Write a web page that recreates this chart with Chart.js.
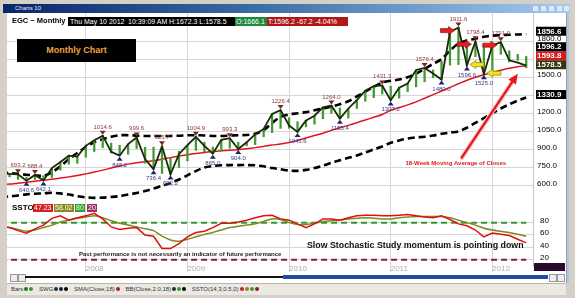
<!DOCTYPE html>
<html>
<head>
<meta charset="utf-8">
<script src="https://cdn.jsdelivr.net/npm/chart.js@4.4.1/dist/chart.umd.min.js"></script>
<style>
  html, body { margin: 0; padding: 0; }
  body { width: 575px; height: 298px; overflow: hidden; position: relative;
    background: #d4d0c8; font-family: "Liberation Sans", Arial, sans-serif; }
  .abs { position: absolute; }
  #titlebar { left: 3px; top: 4px; width: 567px; height: 9px;
    background: linear-gradient(to right, #0a246a, #3a6ea5 45%, #a6caf0); }
  #titlebar span { position: absolute; left: 12px; top: 0; font-size: 6px;
    line-height: 9px; color: #e8eef8; }
  #titlebar i { position: absolute; top: 2px; width: 5px; height: 5px;
    background: #dfe8f4; }
  #panel { left: 7px; top: 13px; width: 559px; height: 270px; background: #fff;
    box-shadow: 1px 0 0 #8aa0c0, 3px 0 0 #b8c4d8; }
  #chartbox { left: 7px; top: 13px; width: 559px; height: 262px; }
  .hdr { top: 17px; height: 9px; font-size: 7px; line-height: 9px; color: #fff;
    white-space: nowrap; }
  #egc { left: 12px; top: 16px; font-size: 7.5px; font-weight: bold; color: #000;
    line-height: 10px; }
  #mchart { left: 17px; top: 39px; width: 119px; height: 23px; background: #000;
    color: #f0a040; font-weight: bold; font-size: 9px; line-height: 23px;
    text-align: center; }
  .sst { top: 204px; height: 8px; font-size: 7px; line-height: 8px; color: #fff;
    padding: 0 1px; }
  #ssto { left: 12px; top: 203px; font-size: 8px; font-weight: bold; color: #000;
    line-height: 10px; }
  #past { left: 79px; top: 251px; font-size: 6px; font-weight: bold; color: #222;
    white-space: nowrap; }
  #slow { left: 307px; top: 240px; font-size: 8.8px; font-weight: bold; color: #111;
    white-space: nowrap; }
  #scroll { left: 7px; top: 274px; width: 559px; height: 8px; background: #fff; }
  #legend { left: 7px; top: 283px; width: 559px; height: 11px; background: #ece9e4;
    border-top: 1px solid #b8b4ac; font-size: 6px; line-height: 11px; color: #333;
    white-space: nowrap; }
  #legend b { font-weight: normal; margin-left: 4px; }
  #legend u { display: inline-block; width: 4px; height: 4px; border-radius: 50%;
    margin-left: 1px; vertical-align: middle; }
</style>
</head>
<body>
<div class="abs" id="titlebar"><span>Charts 10</span>
  <i style="left:530px"></i><i style="left:538px"></i><i style="left:546px"></i><i style="left:554px"></i><i style="left:561px"></i>
</div>
<div class="abs" id="panel"></div>
<div class="abs" id="chartbox"><canvas id="c" width="559" height="262"></canvas></div>

<div class="abs" id="egc">EGC ~ Monthly</div>
<div class="abs hdr" style="left:68px;width:58px;background:#000;padding-left:2px">Thu May 10 2012</div>
<div class="abs hdr" style="left:127px;width:40px;background:#000;padding-left:1px">10:39:09 AM</div>
<div class="abs hdr" id="hl" style="left:168px;width:66px;background:#000;padding-left:1px"></div>
<div class="abs hdr" id="op" style="left:235px;width:31px;background:#1a8a3a;padding-left:1px"></div>
<div class="abs hdr" id="tc" style="left:267px;width:80px;background:#b01818;padding-left:1px"></div>
<div class="abs" id="mchart">Monthly Chart</div>

<div class="abs" id="ssto">SSTO</div>
<div class="abs sst" id="kbox" style="left:33px;background:#d02020"></div>
<div class="abs sst" id="dbox" style="left:54px;background:#8a8a22"></div>
<div class="abs sst" id="hbox" style="left:75px;background:#30a030"></div>
<div class="abs sst" id="lbox" style="left:87px;background:#a0306a"></div>
<div class="abs" id="past">Past performance is not necessarily an indicator of future performance</div>
<div class="abs" id="slow">Slow Stochastic Study momentum is pointing down</div>

<div class="abs" id="scroll">
  <div class="abs" style="left:3px;top:0px;width:6px;height:6px;border:1px solid #999;background:#eee"></div>
  <div class="abs" style="left:11px;top:0px;width:6px;height:6px;border:1px solid #999;background:#eee"></div>
  <div class="abs" style="left:18px;top:2px;width:258px;height:2px;background:#111"></div>
  <div class="abs" style="left:276px;top:1px;width:265px;height:4px;background:#1c4fa0"></div>
  <div class="abs" style="left:542px;top:0px;width:6px;height:6px;border:1px solid #999;background:#eee"></div>
  <div class="abs" style="left:550px;top:0px;width:6px;height:6px;border:1px solid #999;background:#eee"></div>
</div>
<div class="abs" id="legend">
  <b>Bars</b><u style="background:#1f7a1f"></u><u style="background:#2a9a2a"></u>
  <b>SWG</b><u style="background:#1a3a1a"></u><u style="background:#1a1a4a"></u><u style="background:#000"></u>
  <b>SMA(Close,18)</b><u style="background:#b02020"></u>
  <b>BB(Close,2.0,18)</b><u style="background:#1a3a1a"></u><u style="background:#3a9a3a"></u><u style="background:#000"></u>
  <b>SSTO(14,3,0.5,0)</b><u style="background:#c02020"></u><u style="background:#8a8a20"></u><u style="background:#3a9a3a"></u><u style="background:#8a1a3a"></u>
</div>

<script>
// EGC monthly: price bars, swing line, SMA(18), Bollinger bands, slow stochastic

const months = [
  'Mar 2007','Apr 2007','May 2007','Jun 2007','Jul 2007','Aug 2007','Sep 2007','Oct 2007','Nov 2007','Dec 2007',
  'Jan 2008','Feb 2008','Mar 2008','Apr 2008','May 2008','Jun 2008','Jul 2008','Aug 2008','Sep 2008','Oct 2008','Nov 2008','Dec 2008',
  'Jan 2009','Feb 2009','Mar 2009','Apr 2009','May 2009','Jun 2009','Jul 2009','Aug 2009','Sep 2009','Oct 2009','Nov 2009','Dec 2009',
  'Jan 2010','Feb 2010','Mar 2010','Apr 2010','May 2010','Jun 2010','Jul 2010','Aug 2010','Sep 2010','Oct 2010','Nov 2010','Dec 2010',
  'Jan 2011','Feb 2011','Mar 2011','Apr 2011','May 2011','Jun 2011','Jul 2011','Aug 2011','Sep 2011','Oct 2011','Nov 2011','Dec 2011',
  'Jan 2012','Feb 2012','Mar 2012','Apr 2012','May 2012'
];

const barHigh = [
  678, 697, 693.2, 671, 688.4, 681, 745, 795, 848, 840,
  930, 977, 1014.6, 952, 935, 945, 999.6, 918, 919, 925.7, 830, 885,
  935, 1004.9, 960, 920, 980, 993.3, 960, 960, 1025, 1070, 1195, 1226.4,
  1163, 1130, 1140, 1180, 1250, 1264.0, 1245, 1240, 1310, 1388, 1425, 1431.3,
  1425, 1413, 1448, 1560, 1576.4, 1560, 1632, 1877, 1911.6, 1770, 1798.4, 1765,
  1764, 1791.0, 1720, 1690, 1672.3
];
const barLow = [
  636, 672, 651, 640.6, 650, 642.1, 667, 728, 778, 784,
  835, 883, 915, 870, 848.2, 860, 908, 786, 736.4, 700, 692.2, 750,
  805, 892, 880, 865.0, 884, 910, 904.0, 930, 940, 1005, 1040, 1075,
  1075, 1045.6, 1087, 1110, 1155, 1200, 1155.4, 1160, 1240, 1300, 1330, 1360,
  1307.2, 1326, 1380, 1420, 1462, 1496, 1480.0, 1600, 1605, 1596.6, 1670, 1525.0,
  1550, 1690, 1627, 1640, 1578.5
];
const swing = [
  705, 697, 693.2, 640.6, 688.4, 642.1, 745, 795, 848, 840,
  930, 977, 1014.6, 880, 848.2, 945, 999.6, 820, 736.4, 925.7, 692.2, 860,
  935, 1004.9, 930, 865.0, 980, 993.3, 904.0, 960, 1025, 1070, 1195, 1226.4,
  1100, 1045.6, 1140, 1180, 1250, 1264.0, 1155.4, 1240, 1310, 1388, 1425, 1431.3,
  1307.2, 1413, 1448, 1560, 1576.4, 1530, 1480.0, 1877, 1911.6, 1596.6, 1798.4, 1525.0,
  1764, 1791.0, 1640, 1620, 1596.2
];
const sma18 = [
  610, 612, 620, 628, 636, 644, 652, 662, 672, 683,
  697, 712, 728, 745, 762, 778, 790, 798, 806, 818, 832, 845,
  856, 866, 875, 882, 888, 893, 898, 906, 915, 925, 936, 945,
  958, 975, 995, 1015, 1035, 1058, 1080, 1100, 1122, 1145, 1167, 1190,
  1225, 1248, 1270, 1295, 1325, 1355, 1385, 1415, 1445, 1475, 1500, 1520,
  1540, 1558, 1575, 1587, 1593.8
];
const bbUpper = [
  706, 704, 698, 690, 686, 680, 710, 760, 820, 870,
  920, 960, 985, 1005, 1018, 1018, 1015, 1012, 1011, 1011, 1012, 1014,
  1018, 1018, 1016, 1012, 1012, 1015, 1018, 1020, 1030, 1060, 1120, 1170,
  1190, 1200, 1210, 1225, 1240, 1255, 1275, 1300, 1340, 1380, 1420, 1455,
  1470, 1480, 1500, 1530, 1570, 1610, 1650, 1720, 1780, 1805, 1820, 1835,
  1845, 1850, 1852, 1855, 1856.6
];
const bbLower = [
  505, 510, 518, 527, 532, 535, 540, 535, 525, 512,
  502, 498, 500, 505, 512, 525, 538, 555, 575, 598, 620, 650,
  685, 720, 750, 762, 768, 770, 770, 770, 768, 760, 745, 735,
  725, 722, 730, 745, 765, 790, 810, 830, 850, 875, 900, 925,
  955, 975, 990, 1000, 1005, 1015, 1030, 1040, 1050, 1080, 1120, 1160,
  1200, 1240, 1275, 1305, 1330.9
];
const stochK = [
  74, 72, 67, 63, 70, 76, 87, 91, 84, 88,
  91, 95, 86, 73, 69, 71, 72, 60, 58, 38, 38, 46,
  57, 64, 66, 72, 79, 79, 81, 84, 88, 91, 92, 86,
  84, 78, 72, 78, 86, 86, 84, 88, 91, 92, 92, 91,
  91, 92, 93, 91, 89, 88, 91, 85, 78, 75, 68, 57,
  63, 61, 59, 53, 47.23
];
const stochD = [
  73, 72, 69, 66, 68, 72, 76, 81, 84, 87,
  89, 91, 88, 83, 79, 76, 73, 70, 67, 58, 52, 50,
  53, 57, 61, 64, 68, 72, 74, 76, 78, 82, 86, 85,
  80, 77, 77, 79, 82, 83, 84, 86, 87, 88, 87, 86,
  86, 88, 89, 90, 90, 90, 90, 88, 84, 80, 76, 71,
  68, 66, 64, 61, 58.02
];
const stochLevels = [80, 20];

const swingHighs = ['May 2007','Jul 2007','Mar 2008','Jul 2008','Oct 2008','Feb 2009','Jun 2009',
  'Dec 2009','Jun 2010','Dec 2010','May 2011','Sep 2011','Nov 2011','Feb 2012'];
const swingLows = ['Jun 2007','Aug 2007','May 2008','Sep 2008','Nov 2008','Apr 2009','Jul 2009',
  'Feb 2010','Jul 2010','Jan 2011','Jul 2011','Oct 2011','Dec 2011'];
const redArrows = ['Sep 2011','Nov 2011','Feb 2012'];
const yellowArrows = ['Oct 2011','Dec 2011'];

const priceTicks = [600, 750, 900, 1050, 1200, 1350, 1500, 1650, 1800];
const stochTicks = [20, 40, 60, 80];
const lastOpen = 1666.1, lastClose = 1596.2, netChange = -67.2, pctChange = -4.04;

// month index relative to January 2008
const base = months.indexOf('Jan 2008');
const mx = function (i) { return i - base; };
const idx = function (label) { return months.indexOf(label); };
const yearStarts = months.map(function (m, i) { return m.startsWith('Jan') ? mx(i) : null; })
  .filter(function (v) { return v !== null; });
const last = months.length - 1;

// header texts
document.getElementById('hl').textContent = 'H:' + barHigh[last].toFixed(1) + '  L:' + barLow[last].toFixed(1);
document.getElementById('op').textContent = 'O:' + lastOpen.toFixed(1);
document.getElementById('tc').textContent = 'T:' + lastClose.toFixed(1) + '  ' + netChange.toFixed(1) + '  ' + pctChange.toFixed(2) + '%';
document.getElementById('kbox').textContent = stochK[last].toFixed(2);
document.getElementById('dbox').textContent = stochD[last].toFixed(2);
document.getElementById('hbox').textContent = stochLevels[0];
document.getElementById('lbox').textContent = stochLevels[1];

function series(arr) { return arr.map(function (v, i) { return { x: mx(i), y: v }; }); }
function level(v) { return [{ x: mx(0), y: v }, { x: mx(last), y: v }]; }

function blockArrow(ctx, tipX, tipY, dir, fill, stroke) {
  // dir: 1 = pointing right, -1 = pointing left
  const len = 14, head = 6;
  ctx.beginPath();
  ctx.moveTo(tipX, tipY);
  ctx.lineTo(tipX - dir * head, tipY - 4);
  ctx.lineTo(tipX - dir * head, tipY - 2);
  ctx.lineTo(tipX - dir * len, tipY - 2);
  ctx.lineTo(tipX - dir * len, tipY + 2);
  ctx.lineTo(tipX - dir * head, tipY + 2);
  ctx.lineTo(tipX - dir * head, tipY + 4);
  ctx.closePath();
  ctx.fillStyle = fill; ctx.fill();
  ctx.lineWidth = 0.7; ctx.strokeStyle = stroke; ctx.stroke();
}

const overlay = {
  id: 'overlay',
  afterDatasetsDraw: function (chart) {
    const ctx = chart.ctx, x = chart.scales.x, y = chart.scales.y;
    ctx.save();
    ctx.font = '6px "Liberation Sans", Arial';
    ctx.textAlign = 'center';
    swingHighs.forEach(function (m) {
      const i = idx(m), px = x.getPixelForValue(mx(i)), py = y.getPixelForValue(swing[i]);
      ctx.fillStyle = '#7a2424';
      ctx.beginPath(); ctx.moveTo(px, py - 1); ctx.lineTo(px - 3, py - 5); ctx.lineTo(px + 3, py - 5);
      ctx.closePath(); ctx.fill();
      ctx.fillStyle = '#8a3a3a';
      ctx.fillText(swing[i].toFixed(1), px, py - 7);
    });
    swingLows.forEach(function (m) {
      const i = idx(m), px = x.getPixelForValue(mx(i)), py = y.getPixelForValue(swing[i]);
      ctx.fillStyle = '#22226e';
      ctx.beginPath(); ctx.moveTo(px, py + 1); ctx.lineTo(px - 3, py + 5); ctx.lineTo(px + 3, py + 5);
      ctx.closePath(); ctx.fill();
      ctx.fillStyle = '#3a3a8a';
      ctx.fillText(swing[i].toFixed(1), px, py + 11);
    });
    redArrows.forEach(function (m) {
      const i = idx(m);
      blockArrow(ctx, x.getPixelForValue(mx(i)) - 4, y.getPixelForValue(swing[i]) + 3, 1, '#e81e1e', '#8a1010');
    });
    yellowArrows.forEach(function (m) {
      const i = idx(m);
      blockArrow(ctx, x.getPixelForValue(mx(i)) + 3, y.getPixelForValue(swing[i]) - 1, -1, '#f4e21a', '#8a8010');
    });

    // annotation arrow pointing at the moving average
    const tx = x.getPixelForValue(mx(last - 1)), ty = y.getPixelForValue(sma18[last - 1]) + 7;
    const sx = tx - 56, sy = ty + 84;
    const ang = Math.atan2(ty - sy, tx - sx);
    ctx.lineCap = 'round';
    ctx.strokeStyle = '#f6c4c4'; ctx.lineWidth = 4.5;
    ctx.beginPath(); ctx.moveTo(sx, sy); ctx.lineTo(tx - 6 * Math.cos(ang), ty - 6 * Math.sin(ang)); ctx.stroke();
    ctx.strokeStyle = '#e8141e'; ctx.lineWidth = 2.2;
    ctx.beginPath(); ctx.moveTo(sx, sy); ctx.lineTo(tx - 6 * Math.cos(ang), ty - 6 * Math.sin(ang)); ctx.stroke();
    ctx.fillStyle = '#e8141e';
    ctx.beginPath();
    ctx.moveTo(tx, ty);
    ctx.lineTo(tx - 10 * Math.cos(ang) + 4.5 * Math.sin(ang), ty - 10 * Math.sin(ang) - 4.5 * Math.cos(ang));
    ctx.lineTo(tx - 10 * Math.cos(ang) - 4.5 * Math.sin(ang), ty - 10 * Math.sin(ang) + 4.5 * Math.cos(ang));
    ctx.closePath(); ctx.fill();
    ctx.font = 'bold 6px "Liberation Sans", Arial';
    ctx.fillStyle = '#e01818';
    ctx.fillText('18-Week Moving Average of Closes', sx - 6, sy + 7);
    ctx.restore();
  },
  afterDraw: function (chart) {
    const ctx = chart.ctx, x = chart.scales.x, y = chart.scales.y, y2 = chart.scales.y2;
    const area = chart.chartArea;
    const left = area.right + 3;
    ctx.save();
    // axis labels
    ctx.font = '8px "Liberation Sans", Arial';
    ctx.textBaseline = 'middle';
    ctx.textAlign = 'left';
    ctx.fillStyle = '#000';
    priceTicks.forEach(function (v) { ctx.fillText(v.toFixed(1), area.right + 4, y.getPixelForValue(v) - 2); });
    stochTicks.forEach(function (v) { ctx.fillText(String(v), area.right + 7, y2.getPixelForValue(v) - 2); });
    ctx.fillStyle = '#adadad';
    yearStarts.forEach(function (v) { ctx.fillText(months[v + base].slice(4), x.getPixelForValue(v), area.bottom + 3); });

    // value tags on the price axis
    const tags = [
      { v: bbUpper[last], bg: '#000' },
      { v: lastClose, bg: '#000' },
      { v: sma18[last], bg: '#d41a1a' },
      { v: barLow[last], bg: '#34340e' },
      { v: bbLower[last], bg: '#000' }
    ].sort(function (a, b) { return a.v - b.v; });
    ctx.font = 'bold 8px "Liberation Sans", Arial';
    let prev = Infinity;
    tags.forEach(function (t) {
      const py = Math.min(y.getPixelForValue(t.v) - 3, prev - 9);
      prev = py;
      ctx.fillStyle = t.bg;
      ctx.fillRect(left, py - 4.5, 30, 9);
      ctx.fillStyle = '#fff';
      ctx.fillText(t.v.toFixed(1), left + 1, py + 0.5);
    });
    ctx.fillStyle = '#2c0a30';
    ctx.fillRect(left - 2, y2.bottom - 3, 31, 8);
    ctx.restore();
  }
};

const fixedWidth = function (s) { s.width = 33; };

new Chart(document.getElementById('c'), {
  data: {
    datasets: [
      { type: 'line', data: series(swing), yAxisID: 'y', borderColor: '#1c280c', borderWidth: 1.8,
        pointRadius: 0, order: 0 },
      { type: 'bar', data: months.map(function (m, i) { return { x: mx(i), y: [barLow[i], barHigh[i]] }; }),
        yAxisID: 'y', backgroundColor: '#3f9a2f', barThickness: 1.6, order: 1 },
      { type: 'line', data: series(sma18), yAxisID: 'y', borderColor: '#e0161e', borderWidth: 1.5,
        pointRadius: 0, tension: 0.3, order: 2 },
      { type: 'line', data: series(bbUpper), yAxisID: 'y', borderColor: '#000', borderWidth: 2.6,
        borderDash: [7, 4], pointRadius: 0, tension: 0.3, order: 3 },
      { type: 'line', data: series(bbLower), yAxisID: 'y', borderColor: '#000', borderWidth: 2.6,
        borderDash: [7, 4], pointRadius: 0, tension: 0.3, order: 3 },
      { type: 'line', data: series(stochK), yAxisID: 'y2', borderColor: '#e01010', borderWidth: 1.5,
        pointRadius: 0, order: 4 },
      { type: 'line', data: series(stochD), yAxisID: 'y2', borderColor: '#7d8a1e', borderWidth: 1.5,
        pointRadius: 0, tension: 0.3, order: 5 },
      { type: 'line', data: level(stochLevels[0]), yAxisID: 'y2', borderColor: '#2e9a2e', borderWidth: 2,
        borderDash: [6, 4], pointRadius: 0, order: 6 },
      { type: 'line', data: level(stochLevels[1]), yAxisID: 'y2', borderColor: '#861c4c', borderWidth: 2,
        borderDash: [6, 4], pointRadius: 0, order: 6 }
    ]
  },
  options: {
    responsive: false,
    animation: false,
    events: [],
    layout: { padding: 0 },
    plugins: { legend: { display: false }, tooltip: { enabled: false } },
    scales: {
      x: {
        type: 'linear', min: -9.3, max: 52.8, offset: false,
        afterBuildTicks: function (s) { s.ticks = yearStarts.map(function (v) { return { value: v }; }); },
        afterFit: function (s) { s.height = 9; },
        ticks: { display: false },
        grid: { color: '#d6d6d6', tickLength: 6, offset: false },
        border: { display: false }
      },
      y: {
        position: 'right', stack: 'panes', stackWeight: 187, min: 480, max: 2033,
        afterBuildTicks: function (s) { s.ticks = priceTicks.map(function (v) { return { value: v }; }); },
        afterFit: fixedWidth,
        ticks: { display: false },
        grid: { color: '#d6d6d6', drawTicks: false },
        border: { color: '#c4c4c4' }
      },
      y2: {
        position: 'right', stack: 'panes', stackWeight: 66, min: 9.7, max: 116.7,
        afterBuildTicks: function (s) { s.ticks = stochTicks.map(function (v) { return { value: v }; }); },
        afterFit: fixedWidth,
        ticks: { display: false },
        grid: { color: '#d6d6d6', drawTicks: false },
        border: { color: '#c4c4c4' }
      }
    }
  },
  plugins: [overlay]
});
</script>
</body>
</html>
